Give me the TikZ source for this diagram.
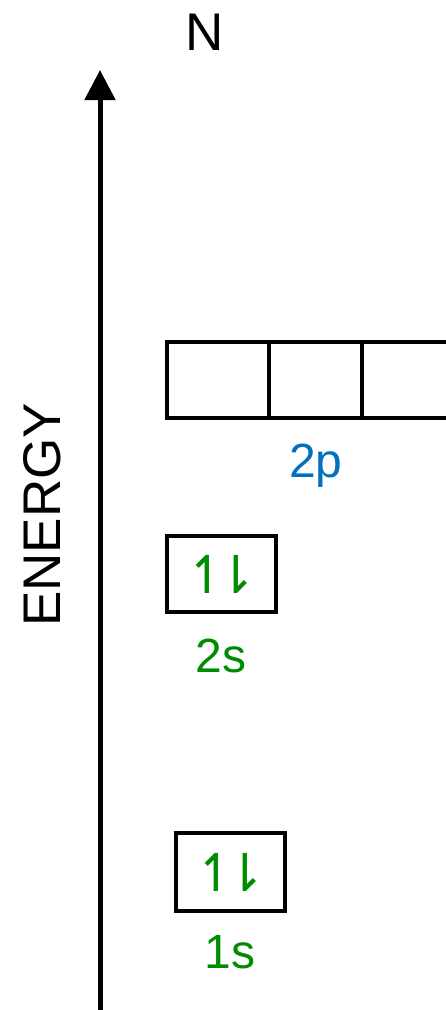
\documentclass[tikz,border=0pt]{standalone}
\usepackage{fontspec}
\setmainfont{Liberation Sans}
\newfontfamily\spinfont{DejaVu Sans}
\usetikzlibrary{arrows.meta,positioning}
\definecolor{orbgreen}{RGB}{0,140,0}
\definecolor{orbblue}{RGB}{0,112,192}
\tikzset{
  orbital/.style={draw,line width=3.2pt,minimum height=76pt,inner sep=0pt,outer sep=0pt},
  biglabel/.style={font=\fontsize{48}{48}\selectfont},
  axislabel/.style={font=\fontsize{53}{53}\selectfont},
  spins/.style={text=orbgreen,font=\spinfont\fontsize{52}{52}\selectfont}
}

\begin{document}
\begin{tikzpicture}[x=1pt,y=-1pt]
    \useasboundingbox (0,0) rectangle (446,1010);

    % energy axis
    \coordinate (axisbot) at (100,1010);
    \coordinate (axistop) at (100,70);
    \draw[line width=5pt,-{Triangle[width=30pt,length=30pt]}] (axisbot) -- (axistop);
    \node[axislabel,rotate=90] (energy) at (42,515) {ENERGY};
    \node[axislabel] (elem) at (205,32) {N};

    % 2p orbitals
    \node[orbital,minimum width=102pt] (p1) at (218,380) {};
    \node[orbital,minimum width=93pt,anchor=west] (p2) at (p1.east) {};
    \node[orbital,minimum width=93pt,anchor=west] (p3) at (p2.east) {};
    \node[biglabel,text=orbblue,anchor=base] (lbl2p) at (316,477) {2p};

    % 2s orbital
    \node[orbital,minimum width=109pt] (s2) at (221.5,574) {};
    \node[spins] (spin2s) at (s2.center) {↿\kern-15pt⇂};
    \node[biglabel,text=orbgreen,anchor=base] (lbl2s) at (221,672) {2s};

    % 1s orbital
    \node[orbital,minimum width=109pt,minimum height=78pt] (s1) at (230.5,872) {};
    \node[spins] (spin1s) at (s1.center) {↿\kern-15pt⇂};
    \node[biglabel,text=orbgreen,anchor=base] (lbl1s) at (230,968) {1s};
\end{tikzpicture}
\end{document}
